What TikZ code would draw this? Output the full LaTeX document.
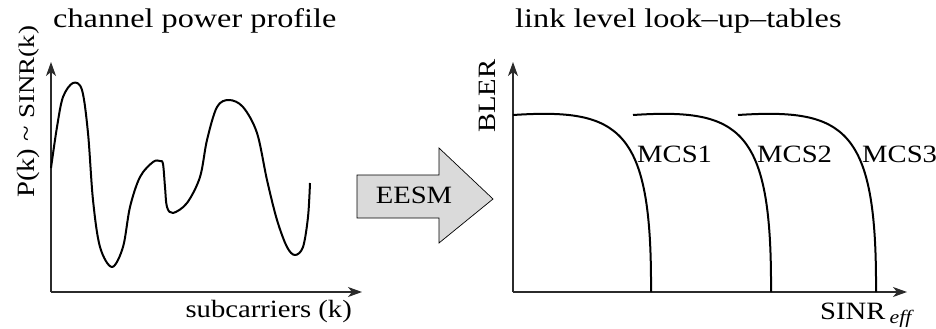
\documentclass[tikz,border=0pt]{standalone}
\usepackage{fontspec}
\setmainfont{Liberation Serif}[FakeStretch=1.15]
\newfontfamily\widefamily{Liberation Serif}[Ligatures=TeX,FakeStretch=1.2]
\usepackage{tikz}
\usetikzlibrary{arrows.meta,positioning}
\definecolor{chInk}{HTML}{000000}
\definecolor{chAxis}{HTML}{2B2B2B}
\definecolor{chArrowFill}{HTML}{DADADA}
\newcommand{\plotfont}{\fontsize{25}{30}\selectfont}
\newcommand{\titlefont}{\widefamily\fontsize{27}{32}\selectfont}
\newcommand{\smallfont}{\fontsize{19}{22}\selectfont}
\newcommand{\ratiofont}{\widefamily\fontsize{22.5}{26}\selectfont}
\tikzset{
  % Axis line with arrow tip
  axline/.style={-{Stealth[length=14bp,width=10bp,inset=4bp]},
    line width=1.2bp,color=chAxis},
  % Data curve
  crv/.style={line width=2bp,line join=round,color=chInk},
  % Block arrow between the two plots
  blockarr/.style={draw=chInk,line width=0.7bp,fill=chArrowFill},
  % Text labels
  lbl/.style={font=\plotfont,inner sep=0pt,text=chInk},
  ttl/.style={font=\titlefont,inner sep=0pt,text=chInk},
}

\begin{document}
\begin{tikzpicture}[x=1bp,y=1bp]
  \useasboundingbox (0,0) rectangle (936,328);

  % left plot: channel power profile
  \coordinate (o1) at (51,36);
  \coordinate (y1) at (51,266);
  \coordinate (x1) at (362,36);
  \draw[axline] (o1) -- (y1);
  \draw[axline] (o1) -- (x1);
  \draw[crv] plot[smooth,tension=0.55] coordinates {
    (51,160) (57,201) (63,231) (73,245) (82,238) (88,195) (93,128)
    (100,81) (112,61) (123,81) (130,121) (140,151) (153,166) (160,167)
    (163,164) (165,141) (167,121) (173,115) (187,125) (200,151)
    (207,188) (217,221) (229,228) (243,221) (257,195) (267,148)
    (277,108) (287,81) (295,73) (303,81) (308,111) (310,145)};

  \node[ttl,anchor=base west] (ttl1) at (53,301) {channel power profile};
  \node[lbl,anchor=base east] (xlab1) at (352,11) {subcarriers (k)};
  \node[lbl,rotate=90,anchor=base west] (ylab1) at (34,130)
    {P(k) \textasciitilde\ {\ratiofont SINR(k)}};

  % EESM block arrow
  \draw[blockarr] (357,110) -- (439,110) -- (439,85) -- (493,129)
    -- (439,180) -- (439,153) -- (357,153) -- cycle;
  \node[lbl,anchor=base] (eesm) at (414,125) {EESM};

  % right plot: link level look-up-tables
  \coordinate (o2) at (513,36);
  \coordinate (y2) at (513,266);
  \coordinate (x2) at (907,36);
  \draw[axline] (o2) -- (y2);
  \draw[axline] (o2) -- (x2);
  \foreach \x/\n in {513/1,633/2,738/3}{
    \draw[crv] (\x,213) .. controls +(107,7) and +(1,164) .. +(138,-177);
    \node[lbl,anchor=base west] (mcs\n) at (\x+124,166) {MCS\n};
  }

  \node[ttl,anchor=base west] (ttl2) at (515,301) {link level look--up--tables};
  \node[lbl,rotate=90,anchor=base west] (ylab2) at (495,195) {BLER};
  \node[lbl,anchor=base west] (xlab2) at (820,9)
    {SINR\,\raisebox{-4bp}{\smallfont\itshape eff}};
\end{tikzpicture}
\end{document}
